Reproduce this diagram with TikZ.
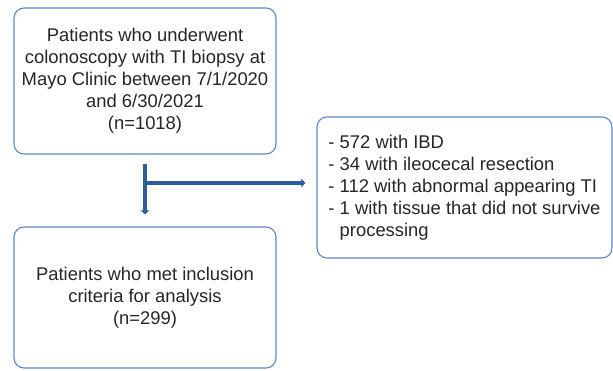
\documentclass[tikz,border=0pt]{standalone}
\usepackage{fontspec}
\setmainfont{Liberation Sans}
\usetikzlibrary{arrows.meta,positioning}
\definecolor{boxc}{HTML}{5B87C8}
\definecolor{arc}{HTML}{2F5C9C}
\definecolor{txtc}{HTML}{262626}
\tikzset{
  box/.style={draw=boxc,line width=1.1pt,rounded corners=10pt,fill=white,align=center,text=txtc,font=\fontsize{18.4}{22}\selectfont,inner sep=0pt},
  ar/.style={-{Triangle[length=4pt,width=8pt]},line width=3.3pt,arc}
}

\begin{document}
\begin{tikzpicture}[x=1pt,y=1pt]
\useasboundingbox (0,0) rectangle (613,-371);
\node[box,minimum width=262pt,minimum height=146pt] (cohort) at (145,-81)
  {Patients who underwent\\colonoscopy with TI biopsy at\\Mayo Clinic between 7/1/2020\\and 6/30/2021\\(n=1018)};
\node[box,minimum width=262pt,minimum height=141pt] (included) at (145,-297.5)
  {Patients who met inclusion\\criteria for analysis\\(n=299)};
\node[box,align=left,minimum width=295pt,minimum height=141pt] (excluded) at (464.5,-187.5)
  {- 572 with IBD\\- 34 with ileocecal resection\\- 112 with abnormal appearing TI\\- 1 with tissue that did not survive\\\phantom{- }processing};
\coordinate (split) at (145,-183);
\draw[ar,shorten <=9pt,shorten >=12pt] (cohort.south) -- (included.north);
\draw[ar,shorten >=11pt] (split) -- (split -| excluded.west);
\end{tikzpicture}
\end{document}
